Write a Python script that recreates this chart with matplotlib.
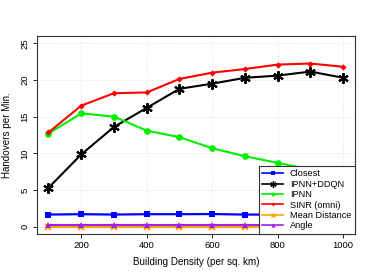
import matplotlib
matplotlib.use("Agg")
import matplotlib.pyplot as plt

density = [100, 200, 300, 400, 500, 600, 700, 800, 900, 1000]
closest = [1.65, 1.7, 1.65, 1.7, 1.7, 1.72, 1.65, 1.65, 1.65, 1.65]
ipnn_ddqn = [5.3, 9.85, 13.6, 16.2, 18.8, 19.5, 20.3, 20.6, 21.15, 20.3]
ipnn = [12.7, 15.45, 15.0, 13.1, 12.2, 10.7, 9.6, 8.7, 7.8, 7.2]
sinr = [12.85, 16.5, 18.2, 18.3, 20.15, 21.0, 21.5, 22.1, 22.25, 21.8]
mean_dist = [0.0, 0.0, 0.0, 0.0, 0.0, 0.0, 0.0, 0.0, 0.0, 0.0]
angle = [0.18, 0.18, 0.18, 0.18, 0.18, 0.18, 0.18, 0.18, 0.18, 0.18]

xticks = [200, 400, 600, 800, 1000]
yticks = [0, 5, 10, 15, 20, 25]

plt.rcParams['font.family'] = ['Liberation Sans', 'DejaVu Sans']
fig = plt.figure(figsize=(3.74, 2.8), dpi=100)
ax = fig.add_axes([36.7/374, 1 - 234/280, (355 - 36.7)/374, (234 - 36)/280])

series = [
    ("Closest", closest, "#0000FF", "s", 4.2, 1.6),
    ("IPNN+DDQN", ipnn_ddqn, "#000000", (6, 2, 0), 7.5, 1.5),
    ("IPNN", ipnn, "#00EE00", "o", 4.8, 1.5),
    ("SINR (omni)", sinr, "#FF0000", "D", 3.2, 1.5),
    ("Mean Distance", mean_dist, "#FFA500", "x", 4.5, 1.5),
    ("Angle", angle, "#A020F0", "^", 5, 1.5),
]
for name, vals, col, mk, ms, lw in series:
    kw = dict(color=col, lw=lw, marker=mk, markersize=ms, label=name)
    if mk == (6, 2, 0) or mk == "x":
        kw.update(markeredgewidth=1.5)
    else:
        kw.update(markeredgewidth=0)
    ax.plot(density, vals, **kw)

ax.set_xlim(64, 1036)
ax.set_ylim(-1, 26)
ax.set_xticks(xticks)
ax.set_yticks(yticks)
ax.grid(True, color="#d3d3d3", linestyle=(0, (1, 2)), lw=0.6)
ax.set_axisbelow(True)
for s in ax.spines.values():
    s.set_linewidth(0.8)
    s.set_color("#333333")
ax.tick_params(direction="out", length=3, width=0.6, labelsize=6.8, pad=2)
for lab in ax.get_yticklabels():
    lab.set_rotation(90)
    lab.set_va("center")
ax.set_xlabel("Building Density (per sq. km)", fontsize=7.1, labelpad=5)
ax.set_ylabel("Handovers per Min.", fontsize=7.1, labelpad=6)

leg = ax.legend(loc="lower right", fontsize=6.6, frameon=True, fancybox=False,
                borderaxespad=0, handlelength=2.2, labelspacing=0.15,
                borderpad=0.4, handletextpad=0.8, markerscale=0.6)
leg.get_frame().set_edgecolor("#333333")
leg.get_frame().set_linewidth(0.8)
leg.get_frame().set_alpha(1)
for h in leg.legend_handles:
    h.set_linewidth(1.2)
    h.set_markeredgewidth(1.0 if h.get_marker() in [(6, 2, 0), "x"] else 0)

fig.savefig("out.png", dpi=100)
